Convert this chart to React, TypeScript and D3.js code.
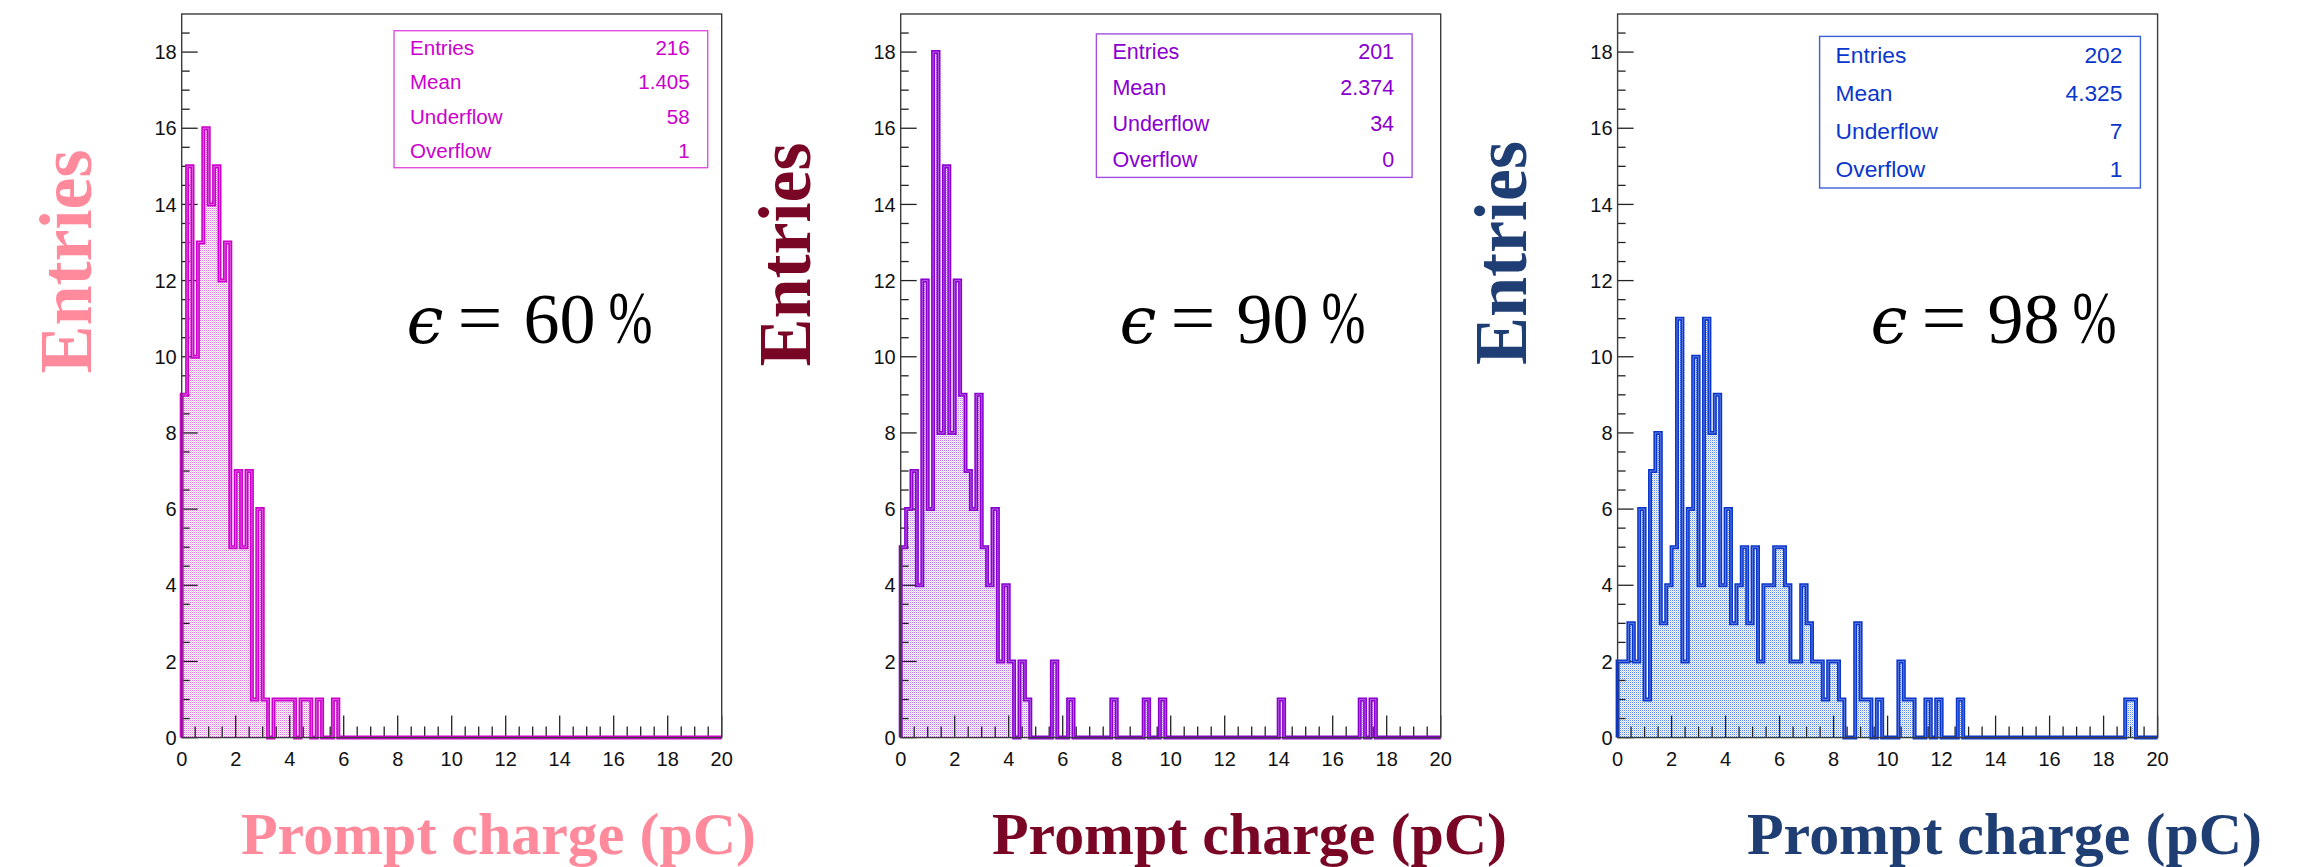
import React from "react";
import * as d3 from "d3";

const W = 2315;
const H = 867;

// ---------- data ----------
const X_DOMAIN: [number, number] = [0, 20];
const Y_DOMAIN: [number, number] = [0, 19];
const xTickLabels = [0, 2, 4, 6, 8, 10, 12, 14, 16, 18, 20];
const yTickLabels = [0, 2, 4, 6, 8, 10, 12, 14, 16, 18];

const efficiencies = ["60", "90", "98"];
const statLabels = ["Entries", "Mean", "Underflow", "Overflow"];
const stats60 = ["216", "1.405", "58", "1"];
const stats90 = ["201", "2.374", "34", "0"];
const stats98 = ["202", "4.325", "7", "1"];

// 100 bins of 0.2 pC from 0 to 20
const counts60 = [
  9, 15, 10, 13, 16, 14, 15, 12, 13, 5, 7, 5, 7, 1, 6, 1, 0, 1, 1, 1,
  1, 0, 1, 1, 0, 1, 0, 0, 1, 0, 0, 0, 0, 0, 0, 0, 0, 0, 0, 0,
  0, 0, 0, 0, 0, 0, 0, 0, 0, 0, 0, 0, 0, 0, 0, 0, 0, 0, 0, 0,
  0, 0, 0, 0, 0, 0, 0, 0, 0, 0, 0, 0, 0, 0, 0, 0, 0, 0, 0, 0,
  0, 0, 0, 0, 0, 0, 0, 0, 0, 0, 0, 0, 0, 0, 0, 0, 0, 0, 0, 0,
];
const counts90 = [
  5, 6, 7, 4, 12, 6, 18, 8, 15, 8, 12, 9, 7, 6, 9, 5, 4, 6, 2, 4,
  2, 0, 2, 1, 0, 0, 0, 0, 2, 0, 0, 1, 0, 0, 0, 0, 0, 0, 0, 1,
  0, 0, 0, 0, 0, 1, 0, 0, 1, 0, 0, 0, 0, 0, 0, 0, 0, 0, 0, 0,
  0, 0, 0, 0, 0, 0, 0, 0, 0, 0, 1, 0, 0, 0, 0, 0, 0, 0, 0, 0,
  0, 0, 0, 0, 0, 1, 0, 1, 0, 0, 0, 0, 0, 0, 0, 0, 0, 0, 0, 0,
];
const counts98 = [
  2, 2, 3, 2, 6, 1, 7, 8, 3, 4, 5, 11, 2, 6, 10, 4, 11, 8, 9, 4,
  6, 3, 4, 5, 3, 5, 2, 4, 4, 5, 5, 4, 2, 2, 4, 3, 2, 2, 1, 2,
  2, 1, 0, 0, 3, 1, 1, 0, 1, 0, 0, 0, 2, 1, 1, 0, 0, 1, 0, 1,
  0, 0, 0, 1, 0, 0, 0, 0, 0, 0, 0, 0, 0, 0, 0, 0, 0, 0, 0, 0,
  0, 0, 0, 0, 0, 0, 0, 0, 0, 0, 0, 0, 0, 0, 1, 1, 0, 0, 0, 0,
];

const xTitle = "Prompt charge (pC)";
const yTitle = "Entries";

// ---------- layout / style ----------
const FRAME_TOP = 14;
const FRAME_BOTTOM = 737.6;
const FRAME_W = 540;

const panels = [
  {
    counts: counts60, stats: stats60, eff: efficiencies[0],
    left: 181.7,
    box: { x: 394, y: 30.7, w: 313.7, h: 137 },
    epsX: 408.6, yTitleCy: 261.5, xTitleX: 241,
    line: "#cc00cc", box_stroke: "#e050e0", dot: "#e070e0",
    title: "#ff8a9c",
  },
  {
    counts: counts90, stats: stats90, eff: efficiencies[1],
    left: 900.7,
    box: { x: 1096.4, y: 33.9, w: 315.7, h: 143.5 },
    epsX: 1121.4, yTitleCy: 254.5, xTitleX: 992,
    line: "#8a00d0", box_stroke: "#a050e0", dot: "#c070f0",
    title: "#7a0626",
  },
  {
    counts: counts98, stats: stats98, eff: efficiencies[2],
    left: 1617.6,
    box: { x: 1819.6, y: 36.4, w: 320.8, h: 151.6 },
    epsX: 1872.5, yTitleCy: 253, xTitleX: 1747,
    line: "#0a36cc", box_stroke: "#3a60d8", dot: "#5a86e8",
    title: "#1e3e74",
  },
];

const SANS = "'Liberation Sans', Arial, Helvetica, sans-serif";
const SERIF = "'Liberation Serif', 'Times New Roman', serif";

function Panel({ p, idx }: { p: (typeof panels)[number]; idx: number }) {
  const x = d3.scaleLinear().domain(X_DOMAIN).range([p.left, p.left + FRAME_W]);
  const y = d3.scaleLinear().domain(Y_DOMAIN).range([FRAME_BOTTOM, FRAME_TOP]);
  const n = p.counts.length;
  const bw = (X_DOMAIN[1] - X_DOMAIN[0]) / n;
  const edge = (i: number) => X_DOMAIN[0] + i * bw;

  const pts: [number, number][] = [[x(edge(0)), y(0)]];
  p.counts.forEach((v, i) => {
    pts.push([x(edge(i)), y(v)]);
    pts.push([x(edge(i + 1)), y(v)]);
  });
  pts.push([x(edge(n)), y(0)]);
  const linePath = d3.line()(pts) as string;

  const area = d3
    .area<number>()
    .x((_, i) => x(edge(i)))
    .y0(y(0))
    .y1((v) => y(v))
    .curve(d3.curveStepAfter);
  const areaPath = area([...p.counts, p.counts[n - 1]]) as string;

  const xMinor = d3.range(0, 40.5, 1).map((k) => k * 0.5).filter((v) => v % 2 !== 0);
  const yMinor = d3.range(0, 38.5, 1).map((k) => k * 0.5).filter((v) => v % 2 !== 0 && v < 19);

  const step = p.box.h / 4;
  const fs = step * 0.6;
  const patId = `dots${idx}`;
  const epsBase = 342.7;

  return (
    <g>
      <defs>
        <pattern id={patId} patternUnits="userSpaceOnUse" width={2} height={2}>
          <rect x={0} y={0} width={2} height={2} fill="#ffffff" />
          <rect x={0} y={0} width={1} height={1} fill={p.dot} />
          <rect x={1} y={1} width={1} height={1} fill={p.dot} opacity={0.35} />
        </pattern>
      </defs>
      {/* fill */}
      <path d={areaPath} fill={`url(#${patId})`} stroke="none" />
      {/* ticks */}
      <g stroke="#222" strokeWidth={1.3}>
        {xTickLabels.map((t) => (
          <line key={"xm" + t} x1={x(t)} x2={x(t)} y1={FRAME_BOTTOM} y2={FRAME_BOTTOM - 22} />
        ))}
        {xMinor.map((t) => (
          <line key={"xn" + t} x1={x(t)} x2={x(t)} y1={FRAME_BOTTOM} y2={FRAME_BOTTOM - 11} />
        ))}
        {yTickLabels.map((t) => (
          <line key={"ym" + t} x1={p.left} x2={p.left + 16} y1={y(t)} y2={y(t)} />
        ))}
        {yMinor.map((t) => (
          <line key={"yn" + t} x1={p.left} x2={p.left + 8} y1={y(t)} y2={y(t)} />
        ))}
      </g>
      {/* histogram outline */}
      <path d={linePath} fill="none" stroke={p.line} strokeWidth={4} strokeLinejoin="miter" />
      <path d={linePath} fill="none" stroke="#ffffff" strokeOpacity={0.35} strokeWidth={1} />
      {/* frame */}
      <rect x={p.left} y={FRAME_TOP} width={FRAME_W} height={FRAME_BOTTOM - FRAME_TOP}
        fill="none" stroke="#3c3c3c" strokeWidth={1.4} />
      {/* tick labels */}
      <g fontFamily={SANS} fontSize={20} fill="#111">
        {xTickLabels.map((t) => (
          <text key={"xl" + t} x={x(t)} y={765.7} textAnchor="middle">{t}</text>
        ))}
        {yTickLabels.map((t) => (
          <text key={"yl" + t} x={p.left - 5} y={y(t) + 7.2} textAnchor="end">{t}</text>
        ))}
      </g>
      {/* stats box */}
      <rect x={p.box.x} y={p.box.y} width={p.box.w} height={p.box.h}
        fill="#ffffff" stroke={p.box_stroke} strokeWidth={1.4} />
      <g fontFamily={SANS} fontSize={fs} fill={p.line}>
        {statLabels.map((lab, i) => (
          <text key={lab} x={p.box.x + 16} y={p.box.y + step * (i + 0.71)}>{lab}</text>
        ))}
        {p.stats.map((v, i) => (
          <text key={"v" + i} x={p.box.x + p.box.w - 18} y={p.box.y + step * (i + 0.71)} textAnchor="end">{v}</text>
        ))}
      </g>
      {/* efficiency annotation */}
      <g fill="#000">
        <text x={p.epsX - 2} y={epsBase} fontFamily="'DejaVu Serif', serif" fontStyle="italic" fontSize={66}>ϵ</text>
        <text x={p.epsX + 49} y={epsBase - 1} fontFamily={SERIF} fontSize={72}
          textLength={45} lengthAdjust="spacingAndGlyphs">=</text>
        <text x={p.epsX + 115} y={epsBase} fontFamily={SERIF} fontSize={72}>{p.eff}</text>
        <text x={p.epsX + 200} y={epsBase} fontFamily={SERIF} fontSize={74}
          textLength={44} lengthAdjust="spacingAndGlyphs">%</text>
      </g>
      {/* axis titles */}
      <text
        transform={`translate(${p.left - 91.2},${p.yTitleCy}) rotate(-90)`}
        textAnchor="middle" fontFamily={SERIF} fontWeight="bold" fontSize={74}
        fill={p.title} textLength={224} lengthAdjust="spacingAndGlyphs"
      >{yTitle}</text>
      <text x={p.xTitleX} y={854.3} fontFamily={SERIF} fontWeight="bold" fontSize={60}
        fill={p.title} textLength={515} lengthAdjust="spacingAndGlyphs">{xTitle}</text>
    </g>
  );
}

export default function App() {
  return (
    <svg width={W} height={H} viewBox={`0 0 ${W} ${H}`}
      style={{ position: "absolute", left: 0, top: 0, display: "block", background: "#fff" }}>
      <rect x={0} y={0} width={W} height={H} fill="#ffffff" />
      {panels.map((p, i) => (
        <Panel key={i} p={p} idx={i} />
      ))}
    </svg>
  );
}
